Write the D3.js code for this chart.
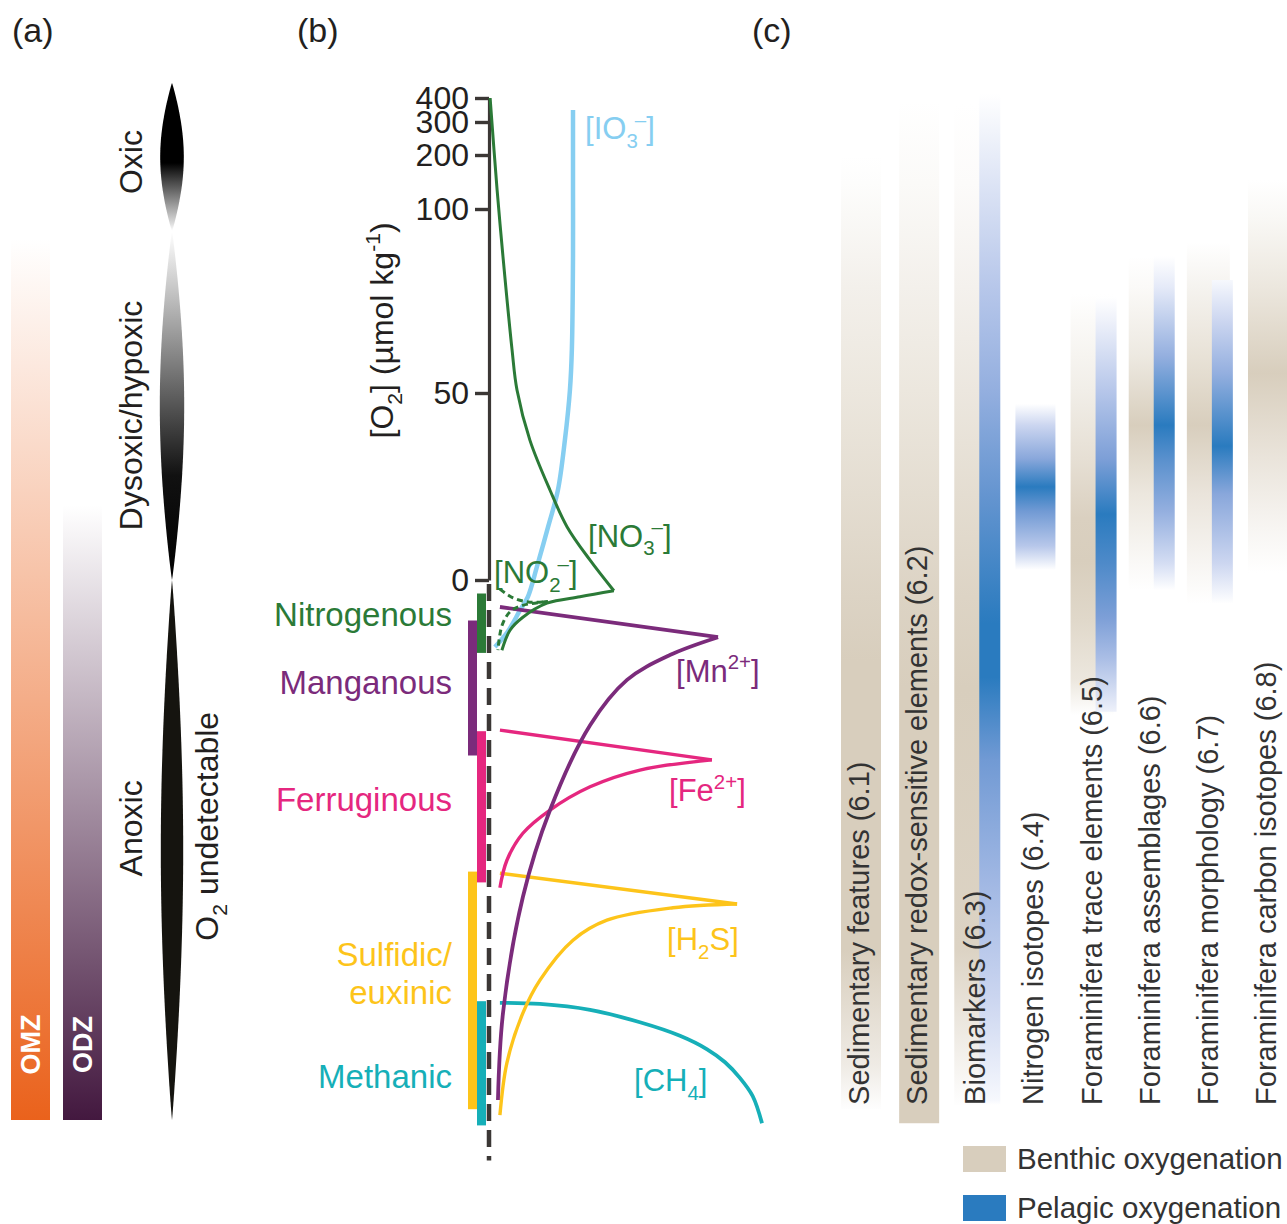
<!DOCTYPE html>
<html><head><meta charset="utf-8">
<script src="https://cdn.jsdelivr.net/npm/d3@7"></script>
<style>body{margin:0;background:#fff}svg{display:block;font-family:"Liberation Sans",Arial,Helvetica,sans-serif}</style>
</head><body><svg id="c" width="1287" height="1224"></svg>
<script>
// ---------------- DATA ----------------
// vertical coordinate: [O2] in µmol/kg (>=0); below 0 = relative anoxic depth index (arbitrary units)
const o2Ticks = [0, 50, 100, 200, 300, 400];

// panel (a)
const waterMasses = ["OMZ", "ODZ"];
const waterMassUpper = [92, 20];
const waterMassLower = [-100, -100];
const oxygenStates = ["Oxic", "Dysoxic/hypoxic", "Anoxic"];
const stateUpper = [462, 94, 0];
const stateLower = [94, 0, -100];
const stateLabelLevel = [187, 44, -46];
const undetectableLevel = -45.6;

// panel (b) redox zones
const zones = ["Nitrogenous", "Manganous", "Ferruginous", "Sulfidic/euxinic", "Methanic"];
const zoneLines = [["Nitrogenous"], ["Manganous"], ["Ferruginous"], ["Sulfidic/", "euxinic"], ["Methanic"]];
const zoneUpper = [-2.5, -7.5, -28, -54, -78];
const zoneLower = [-13.5, -32.5, -56, -98, -101];
const zoneLabelLevel = [-6.3, -18.9, -40.7, -69.4, -91.9];

// panel (b) species profiles: [relative concentration 0-100, level]
const species = ["IO3", "CH4", "H2S", "Fe", "Mn", "NO2", "NO3"];
const io3Curve = [[30,350],[30,135],[30,87],[29.6,62],[28.9,50.8],[27.1,37.4],[24.6,24],[21.1,14.2],[17.1,3.5],[13.9,-3.1],[11.1,-5.6],[6.4,-9.8],[2.1,-12.4]];
const no3Rise = [[0.4,400],[2.9,135],[5,87],[8.2,62],[10,50.8],[14.6,37.4],[21.8,24],[27.9,14.2],[36.1,5.3],[44.6,-2.0]];
const no3Fall = [[44.6,-2.0],[32.5,-3.1],[20.7,-4.3],[12.1,-6.9],[7.5,-9.3],[4.6,-13]];
const no2Rise = [[3.9,-1.7],[8.6,-3.3],[14.6,-4.1],[21,-4.0]];
const no2Fall = [[21,-4.0],[12,-4.7],[7.5,-5.9],[4.6,-8.5],[3.2,-13]];
const mnRise = [[3.9,-5],[81.8,-10.6]];
const mnFall = [[81.8,-10.6],[64.6,-13.9],[49.3,-18.5],[36.1,-26.9],[21.8,-42.6],[12.1,-58.7],[5,-80.2],[3.2,-96.3]];
const feRise = [[3.9,-27.8],[79.6,-33.3]];
const feFall = [[79.6,-33.3],[53.9,-35.2],[36.1,-38.3],[21.8,-42.6],[12.1,-46.9],[6.4,-51.9],[3.9,-57]];
const h2sRise = [[3.9,-54.3],[88.6,-60]];
const h2sFall = [[88.6,-60],[65.7,-60.7],[42.1,-63],[30,-66.7],[18.2,-74.1],[12.1,-80.2],[6.4,-89.4],[3.9,-99.1]];
const ch4Curve = [[3.9,-78.3],[18.2,-78.5],[36.1,-79.6],[53.9,-81.9],[68.2,-84.4],[77.9,-86.9],[84.3,-89.3],[89.6,-92.2],[94.2,-95.6],[97.5,-100.6]];
// label anchors [conc, level]
const speciesLabelAt = {IO3:[34.3,248], NO3:[35.4,8.9], NO2:[1.8,-0.6], Mn:[66.8,-18.8], Fe:[64.3,-41], H2S:[63.6,-68.6], CH4:[51.8,-94.7]};

// panel (c) proxies and their sensitivity ranges: stops [level, intensity 0-1]
const proxies = ["Sedimentary features (6.1)", "Sedimentary redox-sensitive elements (6.2)", "Biomarkers (6.3)",
  "Nitrogen isotopes (6.4)", "Foraminifera trace elements (6.5)", "Foraminifera assemblages (6.6)",
  "Foraminifera morphology (6.7)", "Foraminifera carbon isotopes (6.8)"];
const proxyBars = [
  {proxy:0, kind:"benthic", stops:[[198,0],[148,0.05],[78.8,0.3],[50.8,0.5],[23,0.7],[-3.1,0.9],[-15,1],[-68.5,1],[-90,0.4],[-98,0.02]]},
  {proxy:1, kind:"benthic", stops:[[387,0],[148,0.1],[78.8,0.3],[50.8,0.5],[23,0.7],[-3.1,0.9],[-20,1],[-100.6,1]]},
  {proxy:2, kind:"benthic", stops:[[375,0],[148,0.08],[78.8,0.28],[50.8,0.48],[23,0.7],[-3.1,0.88],[-20,1],[-68.5,0.9],[-97.2,0.02]]},
  {proxy:2, kind:"pelagic", stops:[[417,0],[148,0.2],[78.8,0.4],[50.8,0.55],[23,0.75],[-3.1,0.95],[-8,1],[-18,1],[-33.3,0.7],[-55.6,0.5],[-77.8,0.3],[-96.3,0.05],[-97.2,0]]},
  {proxy:3, kind:"pelagic", stops:[[47.1,0],[41.4,0.3],[32.4,0.6],[24.9,1],[18.4,0.7],[9.1,0.4],[2.7,0]]},
  {proxy:4, kind:"benthic", stops:[[76.9,0],[69.6,0.1],[50.8,0.35],[32.4,0.65],[16.6,0.95],[5,1],[-7.4,0.8],[-18.5,0.5],[-25,0]]},
  {proxy:4, kind:"pelagic", stops:[[76.1,0],[69.6,0.1],[50.8,0.4],[32.4,0.65],[17.6,1],[4.5,0.85],[-7,0.65],[-14.8,0.45],[-24.4,0.1]]},
  {proxy:5, kind:"benthic", stops:[[87.2,0],[78.8,0.1],[60,0.45],[41.4,1],[23,0.5],[4.5,0.12],[-1.9,0]]},
  {proxy:5, kind:"pelagic", stops:[[87.2,0],[78.8,0.15],[60,0.55],[41.4,1],[32.4,0.8],[18.4,0.55],[4.5,0.25],[-1.9,0]]},
  {proxy:6, kind:"benthic", stops:[[91,0],[78.8,0.25],[60,0.6],[41.4,1],[23,0.55],[4.5,0.2],[-4.4,0]]},
  {proxy:6, kind:"pelagic", stops:[[80.7,0.05],[69.6,0.3],[55.4,0.55],[35.8,1],[23,0.6],[4.5,0.3],[-4.4,0]]},
  {proxy:7, kind:"benthic", stops:[[153.7,0],[97.6,0.15],[78.8,0.5],[55.4,1],[32.4,0.55],[13.9,0.2],[1.9,0]]}
];
const proxyLabelLevel = -97.2;
const legendItems = ["Benthic oxygenation", "Pelagic oxygenation"];

// ---------------- STYLE ----------------
const ink = "#231f20";
const waterMassColor = {OMZ:"#ea621c", ODZ:"#43183f"};
const zoneColor = {"Nitrogenous":"#2b7a37","Manganous":"#7b2b7b","Ferruginous":"#e5277f","Sulfidic/euxinic":"#fdc41a","Methanic":"#16afb8"};
const zoneLane = {"Nitrogenous":0,"Manganous":1,"Ferruginous":0,"Sulfidic/euxinic":1,"Methanic":0};
const speciesColor = {IO3:"#86cef1", NO3:"#2b7a37", NO2:"#2b7a37", Mn:"#7b2b7b", Fe:"#e5277f", H2S:"#fdc41a", CH4:"#16afb8"};
const speciesWidth = {IO3:4.5, NO3:3, NO2:3, Mn:3.8, Fe:3.4, H2S:3.4, CH4:3.8};
const speciesLabel = {
  IO3:[{t:"[IO"},{t:"3",sub:1},{t:"–",sup:1,dx:-3},{t:"]"}],
  NO3:[{t:"[NO"},{t:"3",sub:1},{t:"–",sup:1,dx:-3},{t:"]"}],
  NO2:[{t:"[NO"},{t:"2",sub:1},{t:"–",sup:1,dx:-3},{t:"]"}],
  Mn:[{t:"[Mn"},{t:"2+",sup:1},{t:"]"}],
  Fe:[{t:"[Fe"},{t:"2+",sup:1},{t:"]"}],
  H2S:[{t:"[H"},{t:"2",sub:1},{t:"S]"}],
  CH4:[{t:"[CH"},{t:"4",sub:1},{t:"]"}]
};
const benthicRamp = d3.scaleLinear().domain([0,1]).range(["#ffffff","#d8cebd"]);
const pelagicRamp = d3.scaleLinear().domain([0,0.35,0.65,1]).range(["#ffffff","#c3cfee","#7d9fd7","#2a7bbf"]);

// ---------------- SCALES ----------------
const y = d3.scaleLinear().domain([-100, 0, 50, 100, 200, 300, 400]).range([1120, 580, 393, 209, 155, 122, 98]);
const x = d3.scaleLinear().domain([0, 100]).range([489, 769]);
const colX = d3.scalePoint().domain(d3.range(proxies.length)).range([861, 1268]);

const svg = d3.select("#c");
const defs = svg.append("defs");

function rich(sel, parts, fs) {
  let cur = 0;
  parts.forEach(p => {
    const target = p.sub ? 0.27 * fs : p.sup ? -0.4 * fs : 0;
    const ts = sel.append("tspan").text(p.t).attr("dy", target - cur)
      .attr("font-size", (p.sub || p.sup) ? fs * 0.66 : fs);
    if (p.dx) ts.attr("dx", p.dx);
    cur = target;
  });
}

// panel letters
[["(a)",12],["(b)",297],["(c)",752]].forEach(([t,px]) =>
  svg.append("text").attr("x", px).attr("y", 42).attr("font-size", 34).attr("fill", ink).text(t));

// ---------------- PANEL (a) ----------------
const wmX = {OMZ:11, ODZ:63}, wmW = 39;
waterMasses.forEach((name, i) => {
  const g = defs.append("linearGradient").attr("id", "wm" + i).attr("x1",0).attr("y1",0).attr("x2",0).attr("y2",1);
  g.append("stop").attr("offset", 0).attr("stop-color", waterMassColor[name]).attr("stop-opacity", 0);
  g.append("stop").attr("offset", 1).attr("stop-color", waterMassColor[name]).attr("stop-opacity", 1);
  const y0 = y(waterMassUpper[i]), y1 = y(waterMassLower[i]);
  svg.append("rect").attr("x", wmX[name]).attr("width", wmW).attr("y", y0).attr("height", y1 - y0)
    .attr("fill", `url(#wm${i})`);
  svg.append("text").attr("transform", `translate(${wmX[name] + wmW/2},${y(-86)}) rotate(-90)`)
    .attr("text-anchor", "middle").attr("dy", "0.35em").attr("font-size", 27).attr("font-weight", "bold")
    .attr("fill", "#fff").text(name);
});

const lensStops = [
  [[0,"#000"],[0.54,"#000"],[0.66,"#444"],[0.82,"#999"],[0.95,"#ddd"],[1,"#fff"]],
  [[0,"#fff"],[0.1,"#ddd"],[0.3,"#999"],[0.5,"#555"],[0.7,"#111"],[1,"#000"]],
  [[0,"#15140f"],[1,"#15140f"]]
];
const lensCx = 172, lensHalf = [11.8, 12.2, 11.2];
oxygenStates.forEach((s, i) => {
  const g = defs.append("linearGradient").attr("id", "lens" + i).attr("x1",0).attr("y1",0).attr("x2",0).attr("y2",1);
  lensStops[i].forEach(([o,c]) => g.append("stop").attr("offset", o).attr("stop-color", c));
  const y0 = y(stateUpper[i]), y1 = y(stateLower[i]), hw = lensHalf[i];
  const prof = t => hw * Math.pow(Math.sin(Math.PI * t), 0.9);
  const area = d3.area().y(t => y0 + (y1 - y0) * t).x0(t => lensCx - prof(t)).x1(t => lensCx + prof(t));
  svg.append("path").attr("d", area(d3.range(0, 1.00001, 1/120))).attr("fill", `url(#lens${i})`);
  svg.append("text").attr("transform", `translate(142,${y(stateLabelLevel[i])}) rotate(-90)`)
    .attr("text-anchor", "middle").attr("font-size", 32).attr("fill", ink).text(s);
});
{
  const t = svg.append("text").attr("transform", `translate(218,${y(undetectableLevel)}) rotate(-90)`)
    .attr("text-anchor", "middle").attr("fill", ink);
  rich(t, [{t:"O"},{t:"2",sub:1},{t:" undetectable"}], 32);
}

// ---------------- PANEL (b) ----------------
const axisScale = d3.scaleLinear().domain(o2Ticks).range(o2Ticks.map(v => y(v)));
const ax = svg.append("g").attr("transform", `translate(${x(0)},0)`)
  .call(d3.axisLeft(axisScale).tickValues(o2Ticks).tickSize(14).tickSizeOuter(0).tickPadding(6));
ax.select(".domain").attr("stroke", "#3b3735").attr("stroke-width", 3.2);
ax.selectAll(".tick line").attr("stroke", "#3b3735").attr("stroke-width", 3.4);
ax.selectAll(".tick text").attr("font-size", 32).attr("fill", ink).attr("font-family", "Liberation Sans, Arial, sans-serif");

svg.append("line").attr("x1", x(0)).attr("x2", x(0)).attr("y1", y(0) + 4).attr("y2", y(-107.5))
  .attr("stroke", "#3b3735").attr("stroke-width", 4.5).attr("stroke-dasharray", "17,9");

{
  const t = svg.append("text").attr("transform", `translate(393,${y(67)}) rotate(-90)`)
    .attr("text-anchor", "middle").attr("fill", ink);
  rich(t, [{t:"[O"},{t:"2",sub:1},{t:"] (µmol kg"},{t:"-1",sup:1},{t:")"}], 32);
}

zones.forEach((z, i) => {
  const lane = zoneLane[z];
  const y0 = y(zoneUpper[i]), y1 = y(zoneLower[i]);
  svg.append("rect").attr("x", x(0) - 12 - lane * 9).attr("width", 9).attr("y", y0).attr("height", y1 - y0)
    .attr("fill", zoneColor[z]);
  zoneLines[i].forEach((ln, k) =>
    svg.append("text").attr("x", x(0) - 37).attr("y", y(zoneLabelLevel[i]) + k * 38).attr("dy", "0.35em")
      .attr("text-anchor", "end").attr("font-size", 33).attr("fill", zoneColor[z]).text(ln));
});

const line = d3.line().x(d => x(d[0])).y(d => y(d[1])).curve(d3.curveCatmullRom.alpha(0.5));
const speciesPaths = {IO3:[io3Curve], CH4:[ch4Curve], H2S:[h2sRise, h2sFall], Fe:[feRise, feFall],
  Mn:[mnRise, mnFall], NO2:[no2Rise, no2Fall], NO3:[no3Rise, no3Fall]};
species.forEach(sp => {
  speciesPaths[sp].forEach(arr => {
    const p = svg.append("path").attr("d", line(arr)).attr("fill", "none")
      .attr("stroke", speciesColor[sp]).attr("stroke-width", speciesWidth[sp]);
    if (sp === "NO2") p.attr("stroke-dasharray", "6,4");
  });
  const [c, l] = speciesLabelAt[sp];
  const t = svg.append("text").attr("x", x(c)).attr("y", y(l)).attr("fill", speciesColor[sp]);
  rich(t, speciesLabel[sp], 31);
});

// ---------------- PANEL (c) ----------------
const paired = new Set(proxyBars.filter(b => b.kind === "pelagic").map(b => b.proxy));
const benthicProxies = new Set(proxyBars.filter(b => b.kind === "benthic").map(b => b.proxy));
proxyBars.forEach((b, i) => {
  const top = b.stops[0][0], bot = b.stops[b.stops.length - 1][0];
  const y0 = y(top), y1 = y(bot);
  const ramp = b.kind === "benthic" ? benthicRamp : pelagicRamp;
  const g = defs.append("linearGradient").attr("id", "pb" + i).attr("gradientUnits", "userSpaceOnUse")
    .attr("x1", 0).attr("x2", 0).attr("y1", y0).attr("y2", y1);
  b.stops.forEach(([lv, v]) => g.append("stop").attr("offset", (y(lv) - y0) / (y1 - y0)).attr("stop-color", ramp(v)));
  const cx = colX(b.proxy);
  let xa, xb;
  const both = paired.has(b.proxy) && benthicProxies.has(b.proxy);
  if (!both) { xa = cx - 20; xb = cx + 20; }
  else if (b.kind === "benthic") { xa = cx - 23; xb = cx + 20; }
  else { xa = cx + 2; xb = cx + 23; }
  svg.append("rect").attr("x", xa).attr("width", xb - xa).attr("y", y0).attr("height", y1 - y0)
    .attr("fill", `url(#pb${i})`);
});
proxies.forEach((p, i) => {
  svg.append("text").attr("transform", `translate(${colX(i) + 8},${y(proxyLabelLevel)}) rotate(-90)`)
    .attr("font-size", 29).attr("fill", "#333").text(p);
});

legendItems.forEach((t, i) => {
  svg.append("rect").attr("x", 963).attr("y", 1146 + i * 49).attr("width", 43).attr("height", 26)
    .attr("fill", i === 0 ? benthicRamp(1) : pelagicRamp(1));
  svg.append("text").attr("x", 1017).attr("y", 1159 + i * 49).attr("dy", "0.35em")
    .attr("font-size", 29.5).attr("fill", "#333").text(t);
});
</script></body></html>
